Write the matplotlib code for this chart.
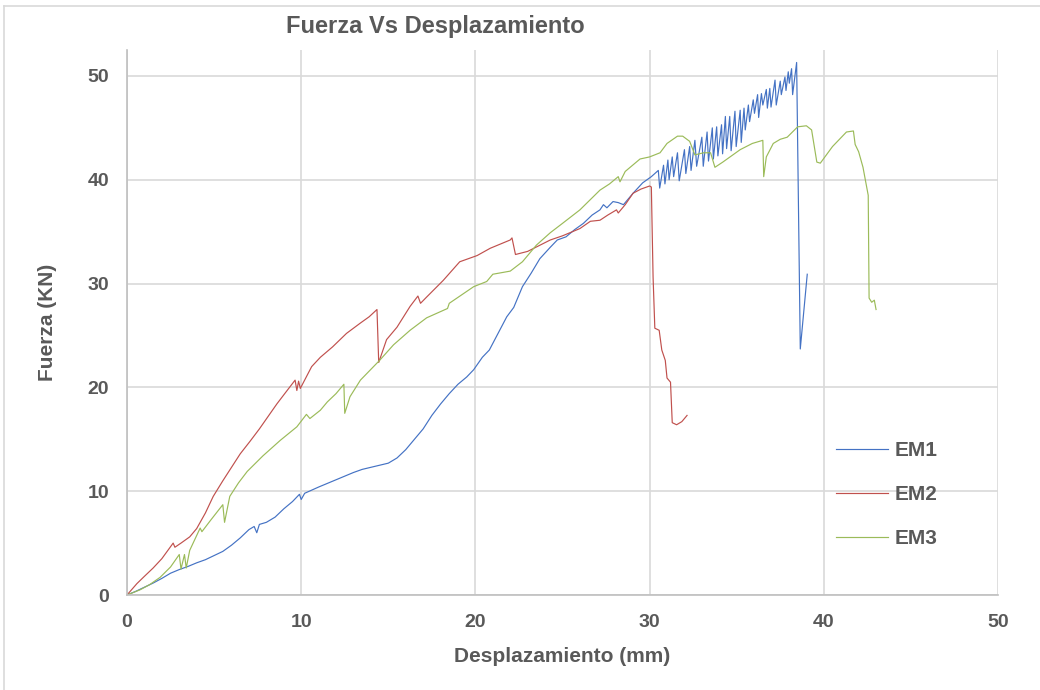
import matplotlib
matplotlib.use("Agg")
import matplotlib.pyplot as plt
from matplotlib.lines import Line2D

plt.rcParams['font.family'] = ['Liberation Sans', 'DejaVu Sans']

# EM1 - smooth part then the sawtooth before failure
em1_x = [0, 0.5, 1, 1.5, 2, 2.5, 3, 3.5, 4, 4.5, 5, 5.5, 6, 6.5, 7, 7.3, 7.45, 7.6, 8, 8.5,
         9, 9.5, 9.9, 10.0, 10.2, 11, 12, 13, 13.5, 14, 15, 15.5, 16, 16.6, 17, 17.5, 18, 18.5, 19, 19.5,
         19.9, 20.4, 20.8, 21.3, 21.8, 22.2, 22.7, 23.2, 23.7, 24.3, 24.7, 25.2, 25.7, 26.2, 26.7,
         27.15, 27.35, 27.55, 27.9, 28.2, 28.5, 29.05, 29.6, 30.1,
         30.5, 30.58, 30.8, 30.88, 31.05, 31.12, 31.3, 31.38, 31.6, 31.7, 32.0, 32.08, 32.3, 32.38,
         32.6, 32.7, 33.0, 33.08, 33.3, 33.38, 33.6, 33.66, 33.85, 33.92, 34.13, 34.19, 34.35, 34.42,
         34.6, 34.68, 34.9, 34.97, 35.2, 35.26, 35.42, 35.49, 35.67, 35.74, 35.95, 36.02, 36.2, 36.26,
         36.42, 36.5, 36.7, 36.76, 36.9, 36.97, 37.2, 37.27, 37.5, 37.56, 37.77, 37.83, 37.96, 38.02,
         38.15, 38.21, 38.44, 38.65, 39.05]
em1_y = [0, 0.35, 0.75, 1.15, 1.6, 2.1, 2.45, 2.75, 3.1, 3.4, 3.8, 4.2, 4.8, 5.5, 6.3, 6.6, 6.0, 6.8, 7.0, 7.5,
         8.3, 9.0, 9.7, 9.2, 9.8, 10.4, 11.1, 11.8, 12.1, 12.3, 12.7, 13.2, 14.0, 15.2, 16.0, 17.3, 18.4, 19.4, 20.3, 21.0,
         21.7, 22.9, 23.6, 25.2, 26.8, 27.7, 29.7, 31.0, 32.4, 33.5, 34.2, 34.5, 35.2, 35.8, 36.6,
         37.1, 37.6, 37.3, 37.9, 37.8, 37.6, 38.7, 39.7, 40.3,
         40.9, 39.2, 41.4, 39.6, 41.9, 40.0, 42.2, 40.3, 42.6, 39.9, 42.9, 40.6, 43.2, 40.9,
         43.8, 41.3, 44.1, 41.3, 44.6, 41.8, 45.0, 42.0, 45.1, 42.3, 45.3, 42.5, 46.1, 43.0,
         46.1, 42.8, 46.6, 43.2, 46.7, 43.6, 46.9, 44.8, 47.2, 45.6, 47.7, 46.4, 48.2, 46.0,
         48.3, 47.2, 48.7, 46.9, 48.8, 47.0, 49.6, 47.2, 49.5, 48.2, 49.9, 48.6, 50.4, 49.3,
         50.7, 48.2, 51.3, 23.7, 30.9]

em2_x = [0, 0.57, 1.0, 1.5, 2.0, 2.65, 2.75, 3.1, 3.6, 4.0, 4.5, 4.95, 5.5, 6.0, 6.5, 7.06, 7.6, 8.1, 8.6, 9.1,
         9.65, 9.75, 9.85, 9.95, 10.6, 11.1, 11.8, 12.6, 13.4, 13.9, 14.35, 14.45, 14.9, 15.5, 16.25, 16.7, 16.85,
         17.2, 18.15, 19.1, 20.1, 20.85, 22.0, 22.1, 22.3, 23.0, 24.3, 25.0, 26.0, 26.6, 27.15, 27.6, 28.1, 28.2,
         28.6, 29.05, 29.5, 30.0, 30.1, 30.2, 30.3, 30.55, 30.7, 30.9, 31.0, 31.2, 31.3, 31.55, 31.85, 32.15]
em2_y = [0, 1.1, 1.8, 2.6, 3.5, 5.0, 4.6, 5.0, 5.6, 6.4, 7.9, 9.5, 11.0, 12.3, 13.6, 14.8, 16.0, 17.2, 18.4, 19.5,
         20.7, 19.7, 20.6, 19.9, 22.0, 22.9, 23.9, 25.2, 26.2, 26.8, 27.5, 22.4, 24.6, 25.8, 27.8, 28.8, 28.1,
         28.7, 30.3, 32.1, 32.7, 33.4, 34.2, 34.4, 32.8, 33.1, 34.2, 34.6, 35.3, 36.0, 36.1, 36.6, 37.1, 36.8,
         37.6, 38.7, 39.1, 39.4, 39.3, 30.6, 25.7, 25.5, 23.6, 22.6, 20.9, 20.5, 16.6, 16.4, 16.7, 17.3]

em3_x = [0, 0.75, 1.3, 1.9, 2.5, 3.0, 3.1, 3.3, 3.4, 3.6, 4.2, 4.3, 4.8, 5.5, 5.6, 5.9, 6.4, 6.9, 7.8, 8.8,
         9.75, 10.3, 10.5, 11.1, 11.5, 12.0, 12.45, 12.5, 12.8, 13.4, 14.5, 15.3, 16.25, 17.2, 18.4, 18.5, 19.2,
         19.9, 20.65, 21.0, 22.0, 22.7, 23.5, 24.3, 25.0, 26.0, 27.15, 27.7, 28.2, 28.3, 28.6, 29.45, 30.0, 30.6,
         31.0, 31.6, 31.9, 32.3, 32.6, 33.1, 33.5, 33.75, 34.2, 35.2, 35.9, 36.5, 36.55, 36.7, 37.1, 37.5, 37.9,
         38.5, 39.0, 39.3, 39.6, 39.8, 40.5, 40.9, 41.3, 41.7, 41.8, 42.0, 42.25, 42.55, 42.6, 42.75, 42.9, 43.0]
em3_y = [0, 0.5, 1.0, 1.7, 2.7, 3.9, 2.5, 3.9, 2.6, 4.3, 6.45, 6.1, 7.2, 8.7, 7.0, 9.5, 10.8, 11.9, 13.4, 14.9,
         16.2, 17.4, 17.0, 17.8, 18.6, 19.4, 20.3, 17.5, 19.1, 20.7, 22.6, 24.1, 25.5, 26.7, 27.6, 28.1, 28.9,
         29.7, 30.2, 30.9, 31.2, 32.1, 33.7, 34.9, 35.8, 37.1, 39.0, 39.6, 40.3, 39.8, 40.8, 42.0, 42.2, 42.6,
         43.5, 44.2, 44.2, 43.7, 42.4, 42.6, 42.6, 41.2, 41.7, 42.9, 43.5, 43.8, 40.3, 42.2, 43.5, 43.9, 44.1,
         45.1, 45.2, 44.8, 41.7, 41.6, 43.2, 43.9, 44.6, 44.7, 43.4, 42.7, 41.2, 38.5, 28.6, 28.2, 28.4, 27.5]

series = [("EM1", em1_x, em1_y, "#4472C4"),
          ("EM2", em2_x, em2_y, "#C0504D"),
          ("EM3", em3_x, em3_y, "#9BBB59")]

text_color = "#595959"

fig = plt.figure(figsize=(10.4, 6.9), dpi=100)
ax = fig.add_axes([127 / 1040, 95 / 690, 871 / 1040, 545 / 690])

for name, xs, ys, col in series:
    ax.plot(xs, ys, color=col, linewidth=0.85, label=name)

ax.set_xlim(0, 50)
ax.set_ylim(0, 52.5)
ax.set_xticks(range(0, 51, 10))
ax.set_yticks(range(0, 51, 10))
ax.grid(color="#D9D9D9", linewidth=1.2)
ax.set_axisbelow(True)
for s in ["top", "right"]:
    ax.spines[s].set_visible(False)
for s in ["left", "bottom"]:
    ax.spines[s].set_color("#BFBFBF")
    ax.spines[s].set_linewidth(1.2)

ax.tick_params(axis="both", length=0, labelsize=14, labelcolor=text_color)
ax.tick_params(axis="x", pad=14)
ax.tick_params(axis="y", pad=13)
for lab in ax.get_xticklabels() + ax.get_yticklabels():
    lab.set_fontweight("bold")

ax.set_xlabel("Desplazamiento (mm)", fontsize=15, fontweight="bold", color=text_color, labelpad=11)
ax.set_ylabel("Fuerza (KN)", fontsize=15, fontweight="bold", color=text_color, labelpad=22)

fig.text(435 / 1040, 1 - 26 / 690, "Fuerza Vs Desplazamiento", ha="center", va="center",
         fontsize=17, fontweight="bold", color=text_color)

leg = ax.legend(loc="center left", bbox_to_anchor=(0.814, 0.184), frameon=False,
                prop={"weight": "bold", "size": 15}, handlelength=2.5, handletextpad=0.3,
                labelspacing=1.2, borderpad=0, borderaxespad=0, labelcolor=text_color)

# light outline of the chart area
fig.add_artist(Line2D([4 / 1040, 1], [1 - 6 / 690, 1 - 6 / 690], transform=fig.transFigure,
                      color="#D9D9D9", linewidth=1.2))
fig.add_artist(Line2D([4 / 1040, 4 / 1040], [0, 1 - 6 / 690], transform=fig.transFigure,
                      color="#D9D9D9", linewidth=1.2))

fig.savefig("out.png", dpi=100)
